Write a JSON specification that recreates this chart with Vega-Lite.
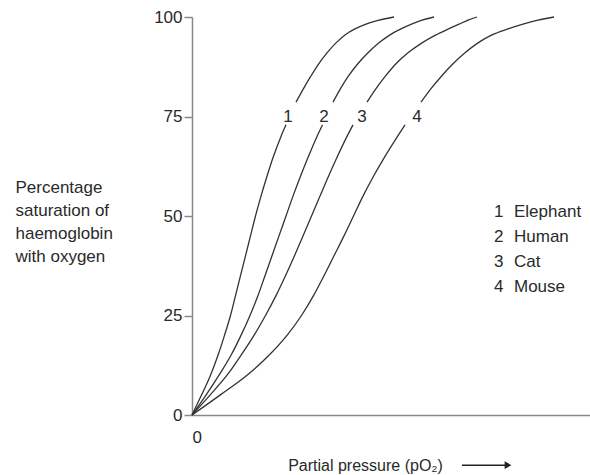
{
  "$schema": "https://vega.github.io/schema/vega-lite/v6.json",
  "autosize": "none",
  "width": 398,
  "height": 398,
  "padding": {"left": 192, "top": 17, "right": 0, "bottom": 60},
  "background": "white",
  "config": {"view": {"stroke": null}, "font": "Liberation Sans"},
  "datasets": {
    "curves": [
      {"animal": "Elephant", "seg": "1a", "x": 0, "y": 0},
      {"animal": "Elephant", "seg": "1a", "x": 9.5, "y": 5},
      {"animal": "Elephant", "seg": "1a", "x": 18.5, "y": 10},
      {"animal": "Elephant", "seg": "1a", "x": 26, "y": 15},
      {"animal": "Elephant", "seg": "1a", "x": 32.5, "y": 20},
      {"animal": "Elephant", "seg": "1a", "x": 38.5, "y": 25},
      {"animal": "Elephant", "seg": "1a", "x": 43.5, "y": 30},
      {"animal": "Elephant", "seg": "1a", "x": 48.5, "y": 35},
      {"animal": "Elephant", "seg": "1a", "x": 53.5, "y": 40},
      {"animal": "Elephant", "seg": "1a", "x": 58.5, "y": 45},
      {"animal": "Elephant", "seg": "1a", "x": 63.5, "y": 50},
      {"animal": "Elephant", "seg": "1a", "x": 69, "y": 55},
      {"animal": "Elephant", "seg": "1a", "x": 75, "y": 60},
      {"animal": "Elephant", "seg": "1a", "x": 81.5, "y": 65},
      {"animal": "Elephant", "seg": "1a", "x": 89, "y": 70},
      {"animal": "Elephant", "seg": "1a", "x": 94, "y": 72.9},
      {"animal": "Elephant", "seg": "1b", "x": 104, "y": 78.6},
      {"animal": "Elephant", "seg": "1b", "x": 111.5, "y": 82},
      {"animal": "Elephant", "seg": "1b", "x": 118.5, "y": 85},
      {"animal": "Elephant", "seg": "1b", "x": 126, "y": 88},
      {"animal": "Elephant", "seg": "1b", "x": 135, "y": 91},
      {"animal": "Elephant", "seg": "1b", "x": 144, "y": 93.5},
      {"animal": "Elephant", "seg": "1b", "x": 153, "y": 95.5},
      {"animal": "Elephant", "seg": "1b", "x": 163, "y": 97},
      {"animal": "Elephant", "seg": "1b", "x": 174, "y": 98.2},
      {"animal": "Elephant", "seg": "1b", "x": 187, "y": 99.2},
      {"animal": "Elephant", "seg": "1b", "x": 202, "y": 100},
      {"animal": "Human", "seg": "2a", "x": 0, "y": 0},
      {"animal": "Human", "seg": "2a", "x": 14, "y": 5},
      {"animal": "Human", "seg": "2a", "x": 27, "y": 10},
      {"animal": "Human", "seg": "2a", "x": 39, "y": 15},
      {"animal": "Human", "seg": "2a", "x": 49, "y": 20},
      {"animal": "Human", "seg": "2a", "x": 58, "y": 25},
      {"animal": "Human", "seg": "2a", "x": 66, "y": 30},
      {"animal": "Human", "seg": "2a", "x": 73, "y": 35},
      {"animal": "Human", "seg": "2a", "x": 80, "y": 40},
      {"animal": "Human", "seg": "2a", "x": 87, "y": 45},
      {"animal": "Human", "seg": "2a", "x": 94, "y": 50},
      {"animal": "Human", "seg": "2a", "x": 101, "y": 55},
      {"animal": "Human", "seg": "2a", "x": 108.5, "y": 60},
      {"animal": "Human", "seg": "2a", "x": 116.5, "y": 65},
      {"animal": "Human", "seg": "2a", "x": 125, "y": 70},
      {"animal": "Human", "seg": "2a", "x": 130.5, "y": 72.9},
      {"animal": "Human", "seg": "2b", "x": 141, "y": 78.6},
      {"animal": "Human", "seg": "2b", "x": 148.5, "y": 82},
      {"animal": "Human", "seg": "2b", "x": 156, "y": 85},
      {"animal": "Human", "seg": "2b", "x": 165, "y": 88},
      {"animal": "Human", "seg": "2b", "x": 176, "y": 91},
      {"animal": "Human", "seg": "2b", "x": 187, "y": 93.5},
      {"animal": "Human", "seg": "2b", "x": 198, "y": 95.5},
      {"animal": "Human", "seg": "2b", "x": 209, "y": 97},
      {"animal": "Human", "seg": "2b", "x": 219.5, "y": 98.2},
      {"animal": "Human", "seg": "2b", "x": 230, "y": 99.2},
      {"animal": "Human", "seg": "2b", "x": 242, "y": 100},
      {"animal": "Cat", "seg": "3a", "x": 0, "y": 0},
      {"animal": "Cat", "seg": "3a", "x": 18, "y": 5},
      {"animal": "Cat", "seg": "3a", "x": 35, "y": 10},
      {"animal": "Cat", "seg": "3a", "x": 49, "y": 15},
      {"animal": "Cat", "seg": "3a", "x": 62, "y": 20},
      {"animal": "Cat", "seg": "3a", "x": 73.5, "y": 25},
      {"animal": "Cat", "seg": "3a", "x": 84, "y": 30},
      {"animal": "Cat", "seg": "3a", "x": 93.5, "y": 35},
      {"animal": "Cat", "seg": "3a", "x": 102.5, "y": 40},
      {"animal": "Cat", "seg": "3a", "x": 111, "y": 45},
      {"animal": "Cat", "seg": "3a", "x": 119.5, "y": 50},
      {"animal": "Cat", "seg": "3a", "x": 128, "y": 55},
      {"animal": "Cat", "seg": "3a", "x": 136.5, "y": 60},
      {"animal": "Cat", "seg": "3a", "x": 145.5, "y": 65},
      {"animal": "Cat", "seg": "3a", "x": 155, "y": 70},
      {"animal": "Cat", "seg": "3a", "x": 161, "y": 72.9},
      {"animal": "Cat", "seg": "3b", "x": 175, "y": 78.6},
      {"animal": "Cat", "seg": "3b", "x": 184, "y": 82},
      {"animal": "Cat", "seg": "3b", "x": 193, "y": 85},
      {"animal": "Cat", "seg": "3b", "x": 203, "y": 88},
      {"animal": "Cat", "seg": "3b", "x": 216, "y": 91},
      {"animal": "Cat", "seg": "3b", "x": 230, "y": 93.5},
      {"animal": "Cat", "seg": "3b", "x": 244, "y": 95.5},
      {"animal": "Cat", "seg": "3b", "x": 256.5, "y": 97},
      {"animal": "Cat", "seg": "3b", "x": 267, "y": 98.2},
      {"animal": "Cat", "seg": "3b", "x": 276, "y": 99.2},
      {"animal": "Cat", "seg": "3b", "x": 285, "y": 100},
      {"animal": "Mouse", "seg": "4a", "x": 0, "y": 0},
      {"animal": "Mouse", "seg": "4a", "x": 28, "y": 5},
      {"animal": "Mouse", "seg": "4a", "x": 55, "y": 10},
      {"animal": "Mouse", "seg": "4a", "x": 77, "y": 15},
      {"animal": "Mouse", "seg": "4a", "x": 95, "y": 20},
      {"animal": "Mouse", "seg": "4a", "x": 109.5, "y": 25},
      {"animal": "Mouse", "seg": "4a", "x": 121.5, "y": 30},
      {"animal": "Mouse", "seg": "4a", "x": 132, "y": 35},
      {"animal": "Mouse", "seg": "4a", "x": 142, "y": 40},
      {"animal": "Mouse", "seg": "4a", "x": 152, "y": 45},
      {"animal": "Mouse", "seg": "4a", "x": 161.5, "y": 50},
      {"animal": "Mouse", "seg": "4a", "x": 171, "y": 55},
      {"animal": "Mouse", "seg": "4a", "x": 181.5, "y": 60},
      {"animal": "Mouse", "seg": "4a", "x": 193, "y": 65},
      {"animal": "Mouse", "seg": "4a", "x": 205.5, "y": 70},
      {"animal": "Mouse", "seg": "4a", "x": 213, "y": 72.9},
      {"animal": "Mouse", "seg": "4b", "x": 229, "y": 78.6},
      {"animal": "Mouse", "seg": "4b", "x": 239, "y": 82},
      {"animal": "Mouse", "seg": "4b", "x": 249, "y": 85},
      {"animal": "Mouse", "seg": "4b", "x": 260, "y": 88},
      {"animal": "Mouse", "seg": "4b", "x": 273, "y": 91},
      {"animal": "Mouse", "seg": "4b", "x": 286, "y": 93.5},
      {"animal": "Mouse", "seg": "4b", "x": 300, "y": 95.5},
      {"animal": "Mouse", "seg": "4b", "x": 316, "y": 97},
      {"animal": "Mouse", "seg": "4b", "x": 331, "y": 98.2},
      {"animal": "Mouse", "seg": "4b", "x": 346, "y": 99.2},
      {"animal": "Mouse", "seg": "4b", "x": 362, "y": 100}
    ],
    "labels": [
      {"label": "1", "x": 96, "y": 75},
      {"label": "2", "x": 132, "y": 75},
      {"label": "3", "x": 170, "y": 75},
      {"label": "4", "x": 225, "y": 75}
    ],
    "key": [
      {"num": "1", "name": "Elephant", "x": 302, "y": 51.0},
      {"num": "2", "name": "Human", "x": 302, "y": 44.7},
      {"num": "3", "name": "Cat", "x": 302, "y": 38.4},
      {"num": "4", "name": "Mouse", "x": 302, "y": 32.2}
    ],
    "arrow": [
      {"x": 270, "x2": 316, "y": -12.6}
    ]
  },
  "layer": [
    {
      "data": {"name": "curves"},
      "mark": {"type": "line", "interpolate": "monotone", "color": "#333333", "strokeWidth": 1.3},
      "encoding": {
        "x": {
          "field": "x", "type": "quantitative",
          "scale": {"domain": [0, 398], "nice": false, "zero": false},
          "axis": {
            "values": [0], "ticks": false, "labelPadding": 14, "labelFontSize": 17,
            "labelColor": "#2a2a2a", "domainColor": "#888888", "domainWidth": 1.5, "grid": false,
            "title": "Partial pressure (pO₂)", "titleFontSize": 16, "titleFontWeight": "normal",
            "titleColor": "#2a2a2a", "titleX": 173, "titleY": 50, "titleAlign": "center", "titleBaseline": "middle"
          }
        },
        "y": {
          "field": "y", "type": "quantitative",
          "scale": {"domain": [0, 100], "nice": false},
          "axis": {
            "values": [0, 25, 50, 75, 100], "tickSize": 8, "tickColor": "#888888", "tickWidth": 1.5,
            "labelPadding": 2, "labelFontSize": 17, "labelColor": "#2a2a2a",
            "domainColor": "#888888", "domainWidth": 1.5, "grid": false,
            "title": ["Percentage", "saturation of", "haemoglobin", "with oxygen"],
            "titleAngle": 0, "titleAlign": "left", "titleBaseline": "top", "titleX": -177, "titleY": 162,
            "titleFontSize": 17, "titleFontWeight": "normal", "titleColor": "#2a2a2a", "titleLineHeight": 23.3
          }
        },
        "detail": {"field": "seg"}
      }
    },
    {
      "data": {"name": "labels"},
      "mark": {"type": "text", "fontSize": 17, "color": "#2a2a2a", "baseline": "middle", "align": "center"},
      "encoding": {
        "x": {"field": "x", "type": "quantitative"},
        "y": {"field": "y", "type": "quantitative"},
        "text": {"field": "label"}
      }
    },
    {
      "data": {"name": "key"},
      "mark": {"type": "text", "fontSize": 17, "color": "#2a2a2a", "baseline": "middle", "align": "left"},
      "encoding": {
        "x": {"field": "x", "type": "quantitative"},
        "y": {"field": "y", "type": "quantitative"},
        "text": {"field": "num"}
      }
    },
    {
      "data": {"name": "key"},
      "mark": {"type": "text", "fontSize": 17, "color": "#2a2a2a", "baseline": "middle", "align": "left", "dx": 20},
      "encoding": {
        "x": {"field": "x", "type": "quantitative"},
        "y": {"field": "y", "type": "quantitative"},
        "text": {"field": "name"}
      }
    },
    {
      "data": {"name": "arrow"},
      "mark": {"type": "rule", "color": "#222222", "strokeWidth": 1.5},
      "encoding": {
        "x": {"field": "x", "type": "quantitative"},
        "x2": {"field": "x2"},
        "y": {"field": "y", "type": "quantitative"}
      }
    },
    {
      "data": {"name": "arrow"},
      "mark": {"type": "point", "shape": "triangle-right", "filled": true, "color": "#222222", "size": 60, "opacity": 1},
      "encoding": {
        "x": {"field": "x2", "type": "quantitative"},
        "y": {"field": "y", "type": "quantitative"}
      }
    }
  ]
}
